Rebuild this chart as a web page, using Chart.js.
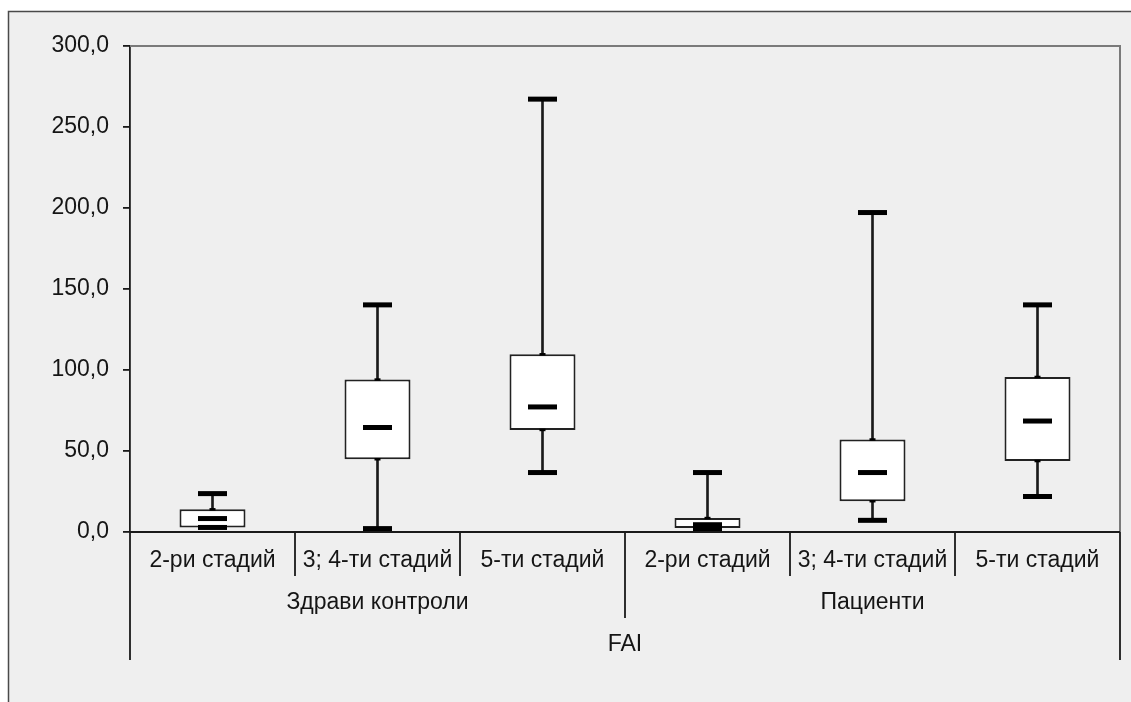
<!DOCTYPE html>
<html>
<head>
<meta charset="utf-8">
<script src="https://cdn.jsdelivr.net/npm/chart.js@4/dist/chart.umd.min.js"></script>
<style>
  html, body { margin: 0; padding: 0; background: #ffffff; }
  #wrap { width: 1131px; height: 702px; }
</style>
</head>
<body>
<div id="wrap"><canvas id="box"></canvas></div>
<script>
'use strict';

// categories and groups of the two-level axis
const categories = ['2-ри стадий', '3; 4-ти стадий', '5-ти стадий', '2-ри стадий', '3; 4-ти стадий', '5-ти стадий'];
const groups = ['Здрави контроли', 'Пациенти'];
const topLabel = 'FAI';

// box plot values
const minVals = [2.8, 2.1, 36.7, 2.0, 7.2, 21.9];
const q1Vals  = [2.8, 44.9, 63.0, 2.5, 19.0, 43.8];
const medVals = [8.3, 64.5, 77.2, 4.5, 36.7, 68.5];
const q3Vals  = [14.0, 94.1, 109.7, 8.6, 57.1, 95.7];
const maxVals = [23.7, 140.2, 267.2, 36.7, 197.2, 140.2];

const yTicks = [0, 50, 100, 150, 200, 250, 300];

const FONT = 'Liberation Sans, Arial, sans-serif';
const TEXT = '#151515';

// frame, plot border and the two-level category axis
const framePlugin = {
  id: 'frame',
  beforeDraw(chart) {
    const ctx = chart.ctx;
    ctx.save();
    ctx.fillStyle = '#ffffff';
    ctx.fillRect(0, 0, chart.width, chart.height);
    ctx.fillStyle = '#efefef';
    ctx.fillRect(8, 11, chart.width - 8, chart.height - 11);
    ctx.strokeStyle = '#4a4a4a';
    ctx.lineWidth = 1.5;
    ctx.beginPath();
    ctx.moveTo(8.5, chart.height);
    ctx.lineTo(8.5, 11.5);
    ctx.lineTo(chart.width, 11.5);
    ctx.stroke();
    ctx.restore();
  },
  afterDraw(chart) {
    const ctx = chart.ctx;
    const area = chart.chartArea;
    const x = chart.scales.x;
    const y = chart.scales.y;
    const base = y.getPixelForValue(0);
    ctx.save();

    // top and right edges of the plot
    ctx.strokeStyle = '#7a7a7a';
    ctx.lineWidth = 2;
    ctx.beginPath();
    ctx.moveTo(area.left, area.top);
    ctx.lineTo(area.right, area.top);
    ctx.lineTo(area.right, base);
    ctx.stroke();

    // axis line and separators
    ctx.strokeStyle = '#1a1a1a';
    ctx.lineWidth = 1.8;
    ctx.beginPath();
    ctx.moveTo(area.left, base);
    ctx.lineTo(area.right, base);
    ctx.moveTo(area.left, base);
    ctx.lineTo(area.left, base + 128);
    ctx.moveTo(area.right, base);
    ctx.lineTo(area.right, base + 128);
    for (let i = 1; i < categories.length; i++) {
      const bx = (x.getPixelForValue(i - 1) + x.getPixelForValue(i)) / 2;
      const len = (i % 3 === 0) ? 86 : 44;
      ctx.moveTo(bx, base);
      ctx.lineTo(bx, base + len);
    }
    ctx.stroke();

    ctx.fillStyle = TEXT;
    ctx.font = '23px ' + FONT;
    ctx.textAlign = 'center';
    ctx.textBaseline = 'middle';
    categories.forEach((c, i) => {
      ctx.fillText(c, x.getPixelForValue(i), base + 29);
    });
    groups.forEach((g, gi) => {
      const cx = (x.getPixelForValue(gi * 3) + x.getPixelForValue(gi * 3 + 2)) / 2;
      ctx.fillText(g, cx, base + 71);
    });
    ctx.fillText(topLabel, (area.left + area.right) / 2, base + 113);
    ctx.restore();
  }
};

const barBase = {
  type: 'bar',
  grouped: false,
  categoryPercentage: 1.0,
};

const pointBase = {
  type: 'line',
  showLine: false,
  pointStyle: 'line',
  pointBorderColor: '#000000',
  pointBackgroundColor: '#000000',
  pointHoverRadius: 0,
  clip: false,
  order: 1,
};

const ctx = document.getElementById('box').getContext('2d');

const chart = new Chart(ctx, {
  type: 'bar',
  data: {
    labels: categories,
    datasets: [
      Object.assign({}, barBase, {
        data: q3Vals.map((v, i) => [v, maxVals[i]]),
        backgroundColor: '#1a1a1a',
        barThickness: 2,
        order: 3,
      }),
      Object.assign({}, barBase, {
        data: minVals.map((v, i) => [v, q1Vals[i]]),
        backgroundColor: '#1a1a1a',
        barThickness: 2,
        order: 3,
      }),
      Object.assign({}, barBase, {
        data: q1Vals.map((v, i) => [v, q3Vals[i]]),
        backgroundColor: '#ffffff',
        borderColor: '#222222',
        borderWidth: 2,
        borderSkipped: false,
        barPercentage: 0.4,
        order: 2,
      }),
      Object.assign({}, pointBase, { data: maxVals, pointRadius: 14.5, pointBorderWidth: 5 }),
      Object.assign({}, pointBase, { data: minVals, pointRadius: 14.5, pointBorderWidth: 5 }),
      Object.assign({}, pointBase, { data: medVals, pointRadius: 14.5, pointBorderWidth: 5 }),
      Object.assign({}, pointBase, { data: q3Vals, pointRadius: 3, pointBorderWidth: 2.5 }),
      Object.assign({}, pointBase, { data: q1Vals, pointRadius: 3, pointBorderWidth: 2.5 }),
    ]
  },
  options: {
    responsive: true,
    maintainAspectRatio: false,
    animation: false,
    layout: {
      autoPadding: false,
      padding: { left: 0, top: 46, right: 11, bottom: 170 }
    },
    plugins: {
      legend: { display: false },
      tooltip: { enabled: false },
    },
    scales: {
      x: {
        type: 'category',
        display: false,
        offset: true,
      },
      y: {
        min: 0,
        max: 300,
        afterFit(scale) { scale.width = 130; },
        afterBuildTicks(scale) { scale.ticks = yTicks.map(v => ({ value: v })); },
        border: { display: true, color: '#1a1a1a', width: 1.8 },
        grid: {
          drawOnChartArea: false,
          drawTicks: true,
          tickLength: 7,
          color: '#1a1a1a',
          lineWidth: 1.8,
        },
        ticks: {
          padding: 14,
          color: TEXT,
          font: { family: FONT, size: 23 },
          callback: (v) => v.toFixed(1).replace('.', ','),
        }
      }
    }
  },
  plugins: [framePlugin]
});
</script>
</body>
</html>
